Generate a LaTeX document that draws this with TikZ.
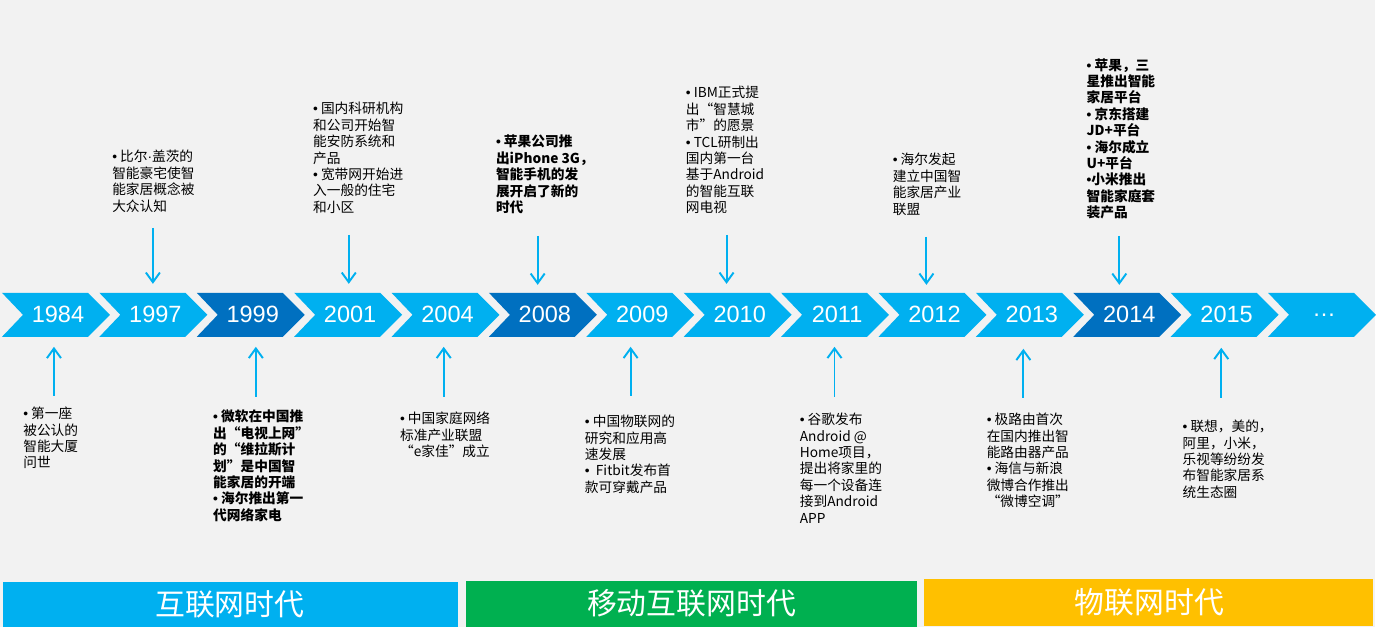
\documentclass[tikz,border=0pt]{standalone}
\usepackage{fontspec}
\usepackage{tikz}
\usetikzlibrary{arrows.meta}
\newfontfamily\cjk{Noto Sans CJK SC}
\newfontfamily\yearfont{Liberation Sans}
\newcommand\evdot{{\yearfont •}}
\newcommand\evmid{{\yearfont ·}}
\definecolor{timelineblue}{RGB}{0,176,240}
\definecolor{timelinedark}{RGB}{0,112,192}
\definecolor{timelinegreen}{RGB}{0,176,80}
\definecolor{timelinegold}{RGB}{255,192,0}
\definecolor{timelinebg}{RGB}{242,242,242}

\begin{document}
\begin{tikzpicture}[x=0.02cm,y=-0.02cm,line join=round,
  evtext/.style={anchor=north west,align=left,inner sep=0pt,
    font=\cjk\fontsize{7.8}{9.35}\selectfont},
  evbold/.style={evtext,font=\cjk\bfseries\fontsize{7.8}{9.35}\selectfont},
  evarrow/.style={timelineblue,line width=1.1pt,
    -{Straight Barb[length=5.5pt,width=8pt,line width=1.1pt]}},
  yearlabel/.style={white,font=\yearfont\fontsize{13.4}{15}\selectfont},
  eralabel/.style={white,font=\cjk\fontsize{17}{20}\selectfont}]
 \fill[timelinebg] (0,0) rectangle (1376,627);
 % chevrons
 \foreach \yr/\c [count=\i from 0] in {1984/timelineblue,1997/timelineblue,
   1999/timelinedark,2001/timelineblue,2004/timelineblue,2008/timelinedark,
   2009/timelineblue,2010/timelineblue,2011/timelineblue,2012/timelineblue,
   2013/timelineblue,2014/timelinedark,2015/timelineblue,…/timelineblue}{
  \pgfmathsetmacro\xo{2+97.45*\i}
  \fill[\c] (\xo,293)--++(86,0)--++(22,22)--++(-22,22)--++(-86,0)
   --++(21,-22)--cycle;
  \node[yearlabel] (y\i) at (\xo+56,315) {\yr};
 }
 % events above
 \node[evtext] (ev1997) at (112,150)
  {\evdot\ 比尔\evmid 盖茨的\\智能豪宅使智\\能家居概念被\\大众认知};
 \node[evtext] (ev2001) at (313,102)
  {\evdot\ 国内科研机构\\和公司开始智\\能安防系统和\\产品\\\evdot\ 宽带网开始进\\入一般的住宅\\和小区};
 \node[evbold] (ev2008) at (496,135)
  {\evdot\ 苹果公司推\\出iPhone 3G，\\智能手机的发\\展开启了新的\\时代};
 \node[evtext] (ev2010) at (686,86)
  {\evdot\ IBM正式提\\出“智慧城\\市”的愿景\\\evdot\ TCL研制出\\国内第一台\\基于Android\\的智能互联\\网电视};
 \node[evtext] (ev2012) at (893,153)
  {\evdot\ 海尔发起\\建立中国智\\能家居产业\\联盟};
 \node[evbold] (ev2014) at (1087,58)
  {\evdot\ 苹果，三\\星推出智能\\家居平台\\\evdot\ 京东搭建\\JD+平台\\\evdot\ 海尔成立\\U+平台\\\evdot 小米推出\\智能家庭套\\装产品};
 % events below
 \node[evtext] (ev1984) at (23,407)
  {\evdot\ 第一座\\被公认的\\智能大厦\\问世};
 \node[evbold] (ev1999) at (213,410)
  {\evdot\ 微软在中国推\\出“电视上网”\\的“维拉斯计\\划”是中国智\\能家居的开端\\\evdot\ 海尔推出第一\\代网络家电};
 \node[evtext] (ev2004) at (400,412)
  {\evdot\ 中国家庭网络\\标准产业联盟\\“e家佳”成立};
 \node[evtext] (ev2009) at (585,415)
  {\evdot\ 中国物联网的\\研究和应用高\\速发展\\\evdot\ \ Fitbit发布首\\款可穿戴产品};
 \node[evtext] (ev2011) at (800,413)
  {\evdot\ 谷歌发布\\Android @\\Home项目，\\提出将家里的\\每一个设备连\\接到Android\\APP};
 \node[evtext] (ev2013) at (987,413)
  {\evdot\ 极路由首次\\在国内推出智\\能路由器产品\\\evdot\ 海信与新浪\\微博合作推出\\“微博空调”};
 \node[evtext] (ev2015) at (1183,420)
  {\evdot\ 联想，美的，\\阿里，小米，\\乐视等纷纷发\\布智能家居系\\统生态圈};
 % arrows
 \coordinate (a1997) at (153,228); \coordinate (p1997) at (153,284);
 \coordinate (a2001) at (349,235); \coordinate (p2001) at (349,284);
 \coordinate (a2008) at (538,236); \coordinate (p2008) at (538,285);
 \coordinate (a2010) at (727,235); \coordinate (p2010) at (727,284);
 \coordinate (a2012) at (927,237); \coordinate (p2012) at (927,285);
 \coordinate (a2014) at (1120,236); \coordinate (p2014) at (1120,285);
 \coordinate (a1984) at (54,396); \coordinate (p1984) at (54,347);
 \coordinate (a1999) at (256,397); \coordinate (p1999) at (256,347);
 \coordinate (a2004) at (444,397); \coordinate (p2004) at (444,347);
 \coordinate (a2009) at (631,396); \coordinate (p2009) at (631,347);
 \coordinate (a2011) at (835,397); \coordinate (p2011) at (835,347);
 \coordinate (a2013) at (1024,398); \coordinate (p2013) at (1024,349);
 \coordinate (a2015) at (1222,398); \coordinate (p2015) at (1222,348);
 \foreach \e in {1997,2001,2008,2010,2012,2014,1984,1999,2004,2009,2011,2013,2015}{
  \draw[evarrow] (a\e)--(p\e);
 }
 % eras
 \fill[timelineblue] (3,582) rectangle (458,627);
 \fill[timelinegreen] (466,581) rectangle (918,627);
 \fill[timelinegold] (925,579) rectangle (1374,626);
 \node[eralabel] (era1) at (230,605) {互联网时代};
 \node[eralabel] (era2) at (692,604) {移动互联网时代};
 \node[eralabel] (era3) at (1150,603) {物联网时代};
\end{tikzpicture}
\end{document}
